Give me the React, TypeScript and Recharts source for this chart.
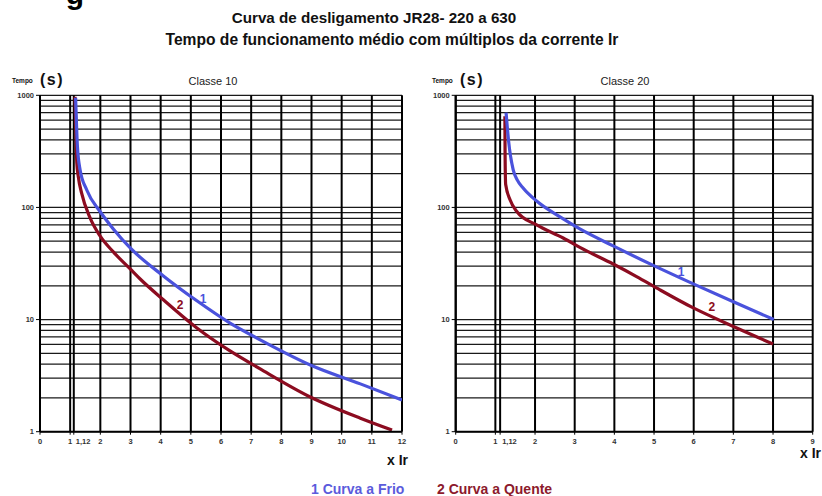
import React from "react";
import { LineChart, Line, XAxis, YAxis, CartesianGrid, ReferenceDot } from "recharts";

// ---------- data ----------
const yTicks = [1, 10, 100, 1000];
const yGrid = [1, 2, 3, 4, 5, 6, 7, 8, 9, 10, 20, 30, 40, 50, 60, 70, 80, 90, 100, 200, 300, 400, 500, 600, 700, 800, 900, 1000];
const xTicksClasse10 = [0, 1, 1.12, 2, 3, 4, 5, 6, 7, 8, 9, 10, 11, 12];
const xTicksClasse20 = [0, 1, 1.12, 2, 3, 4, 5, 6, 7, 8, 9];

// Classe 10 – curva 1 (a frio)
const c10FrioX = [1.18, 1.21, 1.24, 1.33, 1.55, 1.99, 2.43, 2.99, 4.09, 5.2, 6.3, 7.3, 8.96, 10.62, 12];
const c10FrioT = [950, 550, 350, 216, 143, 92, 64.3, 43.5, 24.5, 14.7, 9.3, 6.6, 3.94, 2.67, 1.92];
// Classe 10 – curva 2 (a quente)
const c10QuenteX = [1.16, 1.19, 1.22, 1.27, 1.38, 1.66, 1.99, 2.43, 2.99, 3.32, 4.09, 5.2, 6.3, 7.3, 8.96, 10.62, 11.67];
const c10QuenteT = [970, 500, 250, 188, 134, 80.6, 55.7, 40.1, 28.3, 23.0, 15.0, 8.42, 5.25, 3.63, 2.04, 1.32, 1.035];

// Classe 20 – curva 1 (a frio)
const c20FrioX = [1.27, 1.3, 1.33, 1.45, 1.55, 1.7, 2.04, 2.63, 3.13, 3.97, 4.98, 5.99, 7.0, 8.02];
const c20FrioT = [700, 520, 400, 216, 176, 149, 114, 82.3, 64.3, 45.4, 30.4, 20.8, 14.4, 10.0];
// Classe 20 – curva 2 (a quente)
const c20QuenteX = [1.24, 1.245, 1.26, 1.37, 1.54, 2.04, 2.71, 3.13, 3.97, 4.56, 5.15, 5.99, 7.0, 8.0];
const c20QuenteT = [650, 300, 160, 117, 92, 69.8, 53.4, 44.0, 31.3, 24.2, 18.4, 12.7, 8.68, 6.06];

// curve number labels (x, t)
const c10Labels = [
  { x: 5.41, t: 15.2, text: "1", serie: "frio" },
  { x: 4.64, t: 13.5, text: "2", serie: "quente" },
];
const c20Labels = [
  { x: 5.68, t: 26.6, text: "1", serie: "frio" },
  { x: 6.46, t: 12.9, text: "2", serie: "quente" },
];

const zip = (xs: number[], ts: number[]) => xs.map((x, i) => ({ x, t: ts[i] }));

const BLUE = "#4a52dc";
const RED = "#8c0c20";
const FONT = '"Liberation Sans", Arial, Helvetica, sans-serif';

const XTick = (props: any) => {
  const { x, y, payload } = props;
  const v = payload.value;
  const special = v === 1.12;
  return (
    <text
      x={special ? x + 2 : x}
      y={y + 5}
      textAnchor={special ? "start" : "middle"}
      dominantBaseline="central"
      fontSize={7.5}
      fontWeight="bold"
      fill="#333"
      fontFamily={FONT}
    >
      {special ? "1,12" : String(v)}
    </text>
  );
};

const YTick = (props: any) => {
  const { x, y, payload } = props;
  return (
    <text x={x} y={y} textAnchor="end" dominantBaseline="central" fontSize={7.5} fontWeight="bold" fill="#333" fontFamily={FONT}>
      {String(payload.value)}
    </text>
  );
};

function Panel(p: {
  width: number;
  height: number;
  margin: any;
  yWidth: number;
  xMax: number;
  xTicks: number[];
  frio: { x: number; t: number }[];
  quente: { x: number; t: number }[];
  labels: { x: number; t: number; text: string; serie: string }[];
}) {
  return (
    <LineChart width={p.width} height={p.height} margin={p.margin}>
      <CartesianGrid stroke="#1a1a1a" strokeWidth={1.3} horizontalValues={yGrid} vertical={false} />
      <CartesianGrid stroke="#000" strokeWidth={2} verticalValues={p.xTicks} horizontal={false} />
      <XAxis
        type="number"
        dataKey="x"
        domain={[0, p.xMax]}
        ticks={p.xTicks}
        interval={0}
        allowDataOverflow
        tick={<XTick />}
        tickSize={3}
        tickLine={{ stroke: "#000", strokeWidth: 1 }}
        axisLine={{ stroke: "#000", strokeWidth: 2 }}
        height={20}
      />
      <YAxis
        type="number"
        dataKey="t"
        scale="log"
        domain={[1, 1000]}
        ticks={yTicks}
        interval={0}
        allowDataOverflow
        tick={<YTick />}
        tickSize={4}
        tickLine={{ stroke: "#000", strokeWidth: 1 }}
        axisLine={{ stroke: "#000", strokeWidth: 2 }}
        width={p.yWidth}
      />
      <Line data={p.quente} dataKey="t" type="monotone" stroke={RED} strokeWidth={3.2} dot={false} isAnimationActive={false} />
      <Line data={p.frio} dataKey="t" type="monotone" stroke={BLUE} strokeWidth={3.2} dot={false} isAnimationActive={false} />
      {p.labels.map((l, i) => (
        <ReferenceDot
          key={i}
          x={l.x}
          y={l.t}
          r={0}
          ifOverflow="visible"
          shape={(s: any) => (
            <text
              x={s.cx}
              y={s.cy}
              textAnchor="middle"
              dominantBaseline="central"
              fontSize={12}
              fontWeight="bold"
              fill={l.serie === "frio" ? BLUE : RED}
              fontFamily={FONT}
            >
              {l.text}
            </text>
          )}
        />
      ))}
    </LineChart>
  );
}

const T = (p: { x: number; y: number; size: number; weight?: any; color?: string; anchor?: string; children: any; spacing?: number }) => {
  const tx = p.anchor === "start" ? "0" : p.anchor === "end" ? "-100%" : "-50%";
  return (
    <div
      style={{
        position: "absolute",
        left: p.x,
        top: p.y,
        transform: `translate(${tx}, -50%)`,
        fontSize: p.size,
        fontWeight: p.weight ?? "normal",
        color: p.color ?? "#111",
        whiteSpace: "nowrap",
        lineHeight: 1,
        letterSpacing: p.spacing ?? 0,
      }}
    >
      {p.children}
    </div>
  );
};

export default function App() {
  return (
    <div
      style={{
        position: "absolute",
        left: 0,
        top: 0,
        width: 822,
        height: 496,
        background: "#fff",
        overflow: "hidden",
        fontFamily: FONT,
      }}
    >
      <T x={75} y={-6} size={30} weight="bold" color="#000">g</T>
      <T x={374} y={18} size={15.2} weight="bold">Curva de desligamento JR28- 220 a 630</T>
      <T x={392} y={40} size={15.6} weight="bold">Tempo de funcionamento médio com múltiplos da corrente Ir</T>

      <T x={12} y={81} size={6.5} weight="bold" anchor="start">Tempo</T>
      <T x={40} y={80} size={16} weight="bold" anchor="start" spacing={1.5}>(s)</T>
      <T x={213} y={81} size={11} color="#222">Classe 10</T>

      <T x={432} y={81} size={6.5} weight="bold" anchor="start">Tempo</T>
      <T x={460} y={80} size={16} weight="bold" anchor="start" spacing={1.5}>(s)</T>
      <T x={625} y={81} size={11} color="#222">Classe 20</T>

      <div style={{ position: "absolute", left: 0, top: 60 }}>
        <Panel
          width={420}
          height={400}
          margin={{ top: 35.3, right: 18, bottom: 8.3, left: 0 }}
          yWidth={40}
          xMax={12}
          xTicks={xTicksClasse10}
          frio={zip(c10FrioX, c10FrioT)}
          quente={zip(c10QuenteX, c10QuenteT)}
          labels={c10Labels}
        />
      </div>
      <div style={{ position: "absolute", left: 420, top: 60 }}>
        <Panel
          width={402}
          height={400}
          margin={{ top: 35.3, right: 9.3, bottom: 8.3, left: 0 }}
          yWidth={35.7}
          xMax={9}
          xTicks={xTicksClasse20}
          frio={zip(c20FrioX, c20FrioT)}
          quente={zip(c20QuenteX, c20QuenteT)}
          labels={c20Labels}
        />
      </div>

      <T x={408} y={460} size={14} weight="bold" anchor="end">x Ir</T>
      <T x={821} y={453} size={14} weight="bold" anchor="end">x Ir</T>

      <T x={311} y={489} size={14} weight="bold" color="#5b5bdc" anchor="start">1 Curva a Frio</T>
      <T x={437} y={489} size={14} weight="bold" color="#8c1a2c" anchor="start">2 Curva a Quente</T>
    </div>
  );
}
